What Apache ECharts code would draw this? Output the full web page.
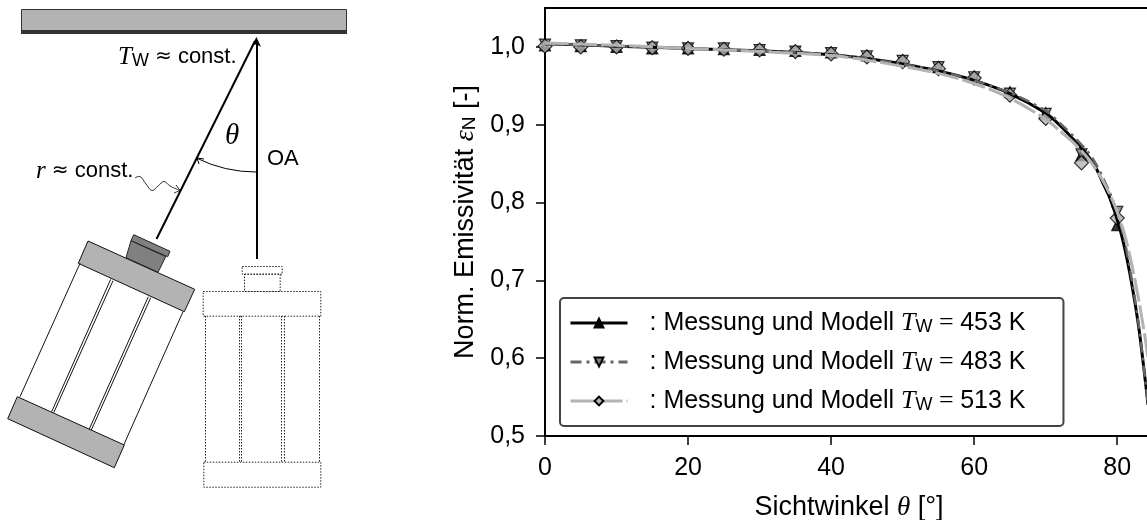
<!DOCTYPE html>
<html>
<head>
<meta charset="utf-8">
<style>html,body{margin:0;padding:0;background:#fff;overflow:hidden}#c{width:1147px;height:520px}</style>
<script src="https://cdn.jsdelivr.net/npm/echarts@6/dist/echarts.min.js"></script>
</head>
<body>
<div id="c"></div>
<script>
const temps = ['453', '483', '513'];
const measureAngles = [0,5,10,15,20,25,30,35,40,45,50,55,60,65,70,75,80];
const measure453 = [1.002,1.001,1.000,0.998,0.998,0.997,0.996,0.995,0.993,0.989,0.983,0.974,0.962,0.942,0.915,0.861,0.771];
const measure483 = [1.003,1.002,1.001,0.999,0.998,0.998,0.996,0.994,0.992,0.988,0.982,0.974,0.961,0.940,0.914,0.862,0.788];
const measure513 = [1.001,1.000,1.000,0.999,0.998,0.997,0.996,0.994,0.991,0.987,0.981,0.972,0.960,0.938,0.908,0.851,0.780];
const modelAngles = [0,10,20,30,40,45,50,55,60,65,70,72,74,76,77,78,79,80,81,82,83,84,84.3];
const model453 = [1.004,1.001,0.998,0.995,0.990,0.985,0.978,0.969,0.957,0.940,0.915,0.899,0.880,0.859,0.845,0.825,0.805,0.778,0.743,0.697,0.640,0.565,0.540];
const model483 = [1.004,1.001,0.998,0.995,0.990,0.985,0.978,0.969,0.957,0.941,0.918,0.902,0.884,0.864,0.850,0.832,0.812,0.787,0.752,0.703,0.643,0.565,0.540];
const model513 = [1.005,1.002,0.998,0.994,0.989,0.983,0.975,0.966,0.953,0.934,0.907,0.892,0.876,0.856,0.843,0.828,0.810,0.788,0.760,0.722,0.675,0.620,0.598];
const xTicks = [0,20,40,60,80];

const pair = (xs, ys) => xs.map((x, i) => [x, ys[i]]);
const SANS = '"Liberation Sans", Arial, sans-serif';
const SERIF = '"Liberation Serif", serif';
const INK = '#000';

function modelSeries(name, ys, color, width, type, symbol, rotate, fill) {
  return {
    type: 'line', name, data: pair(modelAngles, ys), smooth: 0.3, showSymbol: false,
    symbol, symbolRotate: rotate, z: 3,
    lineStyle: { color, width, type, cap: 'butt' },
    itemStyle: { color: fill, borderColor: INK, borderWidth: 1 }
  };
}
function measureSeries(name, ys, symbol, rotate, size, fill) {
  return {
    type: 'scatter', name, data: pair(measureAngles, ys), symbol, symbolRotate: rotate,
    symbolSize: size, z: 2, clip: true,
    itemStyle: { color: fill, borderColor: INK, borderWidth: 1.2 }
  };
}

const wallAndDiagram = [
  { type:'rect', shape:{x:21.5,y:9.5,width:325,height:21}, style:{fill:'#b3b3b3',stroke:'#333',lineWidth:1}},
  { type:'rect', shape:{x:21,y:30,width:326,height:4}, style:{fill:'#333'}},
  { type:'line', shape:{x1:257,y1:259,x2:257,y2:40}, style:{stroke:INK,lineWidth:2}},
  { type:'line', shape:{x1:156.5,y1:239,x2:255,y2:41}, style:{stroke:INK,lineWidth:2}},
  { type:'polygon', shape:{points:[[256.5,37],[261,47],[256.5,44],[251.5,46]]}, style:{fill:INK}},
  { type:'arc', shape:{cx:256,cy:38,r:134,startAngle:Math.PI/2,endAngle:2.03,clockwise:true}, style:{stroke:INK,lineWidth:1,fill:'none'}},
  { type:'polyline', shape:{points:[[199,164],[197,158],[204,159]]}, style:{stroke:INK,lineWidth:1,fill:'none'}},
  { type:'polyline', shape:{points:[[135,178],[140,176.5],[146,184],[152,190.5],[158,186],[164,181.5],[170,186],[180,190.5]],smooth:0.4}, style:{stroke:INK,lineWidth:0.8,fill:'none'}},
  { type:'polyline', shape:{points:[[174,193],[180,190.5],[176,185]]}, style:{stroke:INK,lineWidth:0.8,fill:'none'}},
  { type:'polygon', shape:{points:[[133.7,234.7],[170,251.3],[167.7,256.7],[131,240.7]]}, style:{fill:'#808080',stroke:'#222',lineWidth:1}},
  { type:'polygon', shape:{points:[[131,240.7],[165.7,256.7],[158,272.3],[126,257.7]]}, style:{fill:'#808080',stroke:'#222',lineWidth:1}},
  { type:'polygon', shape:{points:[[88,241],[194.7,289.3],[184.3,311.7],[78.3,263.3]]}, style:{fill:'#b3b3b3',stroke:'#111',lineWidth:1}},
  { type:'polygon', shape:{points:[[17.3,396.7],[124.3,445],[114.3,467.7],[7.7,418.7]]}, style:{fill:'#b3b3b3',stroke:'#111',lineWidth:1}},
  { type:'line', shape:{x1:80,y1:263.3,x2:20,y2:396.7}, style:{stroke:'#111',lineWidth:1}},
  { type:'line', shape:{x1:183,y1:311.7,x2:123.7,y2:445}, style:{stroke:'#111',lineWidth:1}},
  { type:'line', shape:{x1:110.7,y1:279.3,x2:51.7,y2:411.7}, style:{stroke:'#111',lineWidth:1}},
  { type:'line', shape:{x1:113,y1:280.7,x2:53.7,y2:412.7}, style:{stroke:'#111',lineWidth:1}},
  { type:'line', shape:{x1:148.3,y1:296.7,x2:89.3,y2:429}, style:{stroke:'#111',lineWidth:1}},
  { type:'line', shape:{x1:150.7,y1:297.7,x2:91.3,y2:430}, style:{stroke:'#111',lineWidth:1}}
];
const dot = { stroke:'#222', lineWidth:1, lineDash:[1.5,1.5], fill:'none' };
[[241.7,266,40,7.7],[244,273.7,35.7,17.3],[202.7,291,117.6,24.7],[203.3,461.7,117,25]].forEach(r =>
  wallAndDiagram.push({ type:'rect', shape:{x:r[0]+.5,y:r[1]+.5,width:r[2],height:r[3]}, style:dot }));
[205.3,239,241.3,281.3,283.7,319.3].forEach(x =>
  wallAndDiagram.push({ type:'line', shape:{x1:Math.round(x)+.5,y1:316,x2:Math.round(x)+.5,y2:462}, style:dot }));

const mathRich = {
  t: { fontFamily: SERIF, fontStyle: 'italic', fontSize: 25, fill: INK, color: INK },
  w: { fontFamily: SANS, fontSize: 18, padding: [9,0,0,0], fill: INK, color: INK },
  a: { fontFamily: '"DejaVu Sans"', fontSize: 20, fill: INK, color: INK },
  n: { fontFamily: SANS, fontSize: 22, fill: INK, color: INK }
};
function diagramText(x, y, text, size) {
  return { type:'text', x, y, style:{ text, font:`${size}px ${SANS}`, fill:INK, rich:mathRich, verticalAlign:'middle' } };
}
wallAndDiagram.push(
  diagramText(118, 57, '{t|T}{w|W}{n| }{a|≈}{n| const.}', 22),
  diagramText(36, 171, '{t|r}{n| }{a|≈}{n| const.}', 22),
  { type:'text', x:225, y:136, style:{ text:'θ', font:`italic 29px ${SERIF}`, fill:INK, verticalAlign:'middle' } },
  diagramText(267, 159, '{n|OA}', 22)
);

const chart = echarts.init(document.getElementById('c'), null, { renderer: 'canvas' });
chart.setOption({
  animation: false,
  backgroundColor: '#fff',
  textStyle: { fontFamily: SANS },
  grid: { left: 545, top: 8, width: 608, height: 428, show: false, outerBoundsMode: 'none' },
  xAxis: [{
    type: 'value', min: 0, max: 85, interval: 20,
    name: 'Sichtwinkel {th|θ} [°]', nameLocation: 'middle', nameGap: 58,
    nameTextStyle: { fontFamily: SANS, fontSize: 27, color: INK,
      rich: { th: { fontFamily: SERIF, fontStyle: 'italic', fontSize: 27, color: INK } } },
    splitLine: { show: false },
    axisLine: { show: true, onZero: false, lineStyle: { color: INK, width: 2 } },
    axisTick: { show: true, length: 9, lineStyle: { color: INK, width: 1.5 }, customValues: xTicks },
    axisLabel: { fontFamily: SANS, fontSize: 25, color: INK, margin: 20, customValues: xTicks }
  }, {
    type: 'value', position: 'top', min: 0, max: 85, show: true,
    splitLine: { show: false }, axisTick: { show: false }, axisLabel: { show: false },
    axisLine: { show: true, onZero: false, lineStyle: { color: INK, width: 2 } }
  }],
  yAxis: {
    type: 'value', min: 0.5, max: 1.05, interval: 0.1,
    name: 'Norm. Emissivität {e|ε}{s|N} [-]', nameLocation: 'middle', nameGap: 65,
    nameTextStyle: { fontFamily: SANS, fontSize: 27, color: INK,
      rich: { e: { fontFamily: SERIF, fontStyle: 'italic', fontSize: 28, color: INK },
              s: { fontFamily: SANS, fontSize: 19, color: INK, padding: [8,0,0,0] } } },
    nameRotate: 90,
    splitLine: { show: false },
    axisLine: { show: true, onZero: false, lineStyle: { color: INK, width: 2 } },
    axisTick: { show: true, length: 9, lineStyle: { color: INK, width: 1.5 } },
    axisLabel: { fontFamily: SANS, fontSize: 25, color: INK, margin: 20,
      showMaxLabel: false,
      formatter: v => v.toFixed(1).replace('.', ',') }
  },
  legend: {
    show: true, left: 560, top: 298, orient: 'vertical',
    data: temps, selectedMode: false,
    padding: [12, 38, 12, 9], itemGap: 13, itemWidth: 57, itemHeight: 11,
    backgroundColor: '#fff', borderColor: '#444', borderWidth: 2, borderRadius: 4,
    lineStyle: { width: 3 },
    textStyle: { fontFamily: SANS, fontSize: 25, color: INK,
      rich: {
        gap: { width: 17 },
        t: { fontFamily: SERIF, fontStyle: 'italic', fontSize: 26, color: INK },
        w: { fontFamily: SANS, fontSize: 18, color: INK, padding: [8,0,0,0] },
        e: { fontFamily: SERIF, fontSize: 26, color: INK },
        n: { fontFamily: SANS, fontSize: 25, color: INK }
      } },
    formatter: t => `{gap|}{n|: Messung und Modell }{t|T}{w|W}{e| = }{n|${t} K}`
  },
  series: [
    measureSeries('M453', measure453, 'triangle', 0, 11, INK),
    measureSeries('M483', measure483, 'triangle', 180, 11, '#808080'),
    measureSeries('M513', measure513, 'diamond', 0, 14, '#b3b3b3'),
    modelSeries('453', model453, INK, 3, 'solid', 'triangle', 0, INK),
    modelSeries('483', model483, '#666', 2.5, [11,5,3,5], 'triangle', 180, '#808080'),
    modelSeries('513', model513, '#b3b3b3', 3, [24,4], 'diamond', 0, '#b3b3b3')
  ],
  graphic: { elements: wallAndDiagram }
});
</script>
</body>
</html>
